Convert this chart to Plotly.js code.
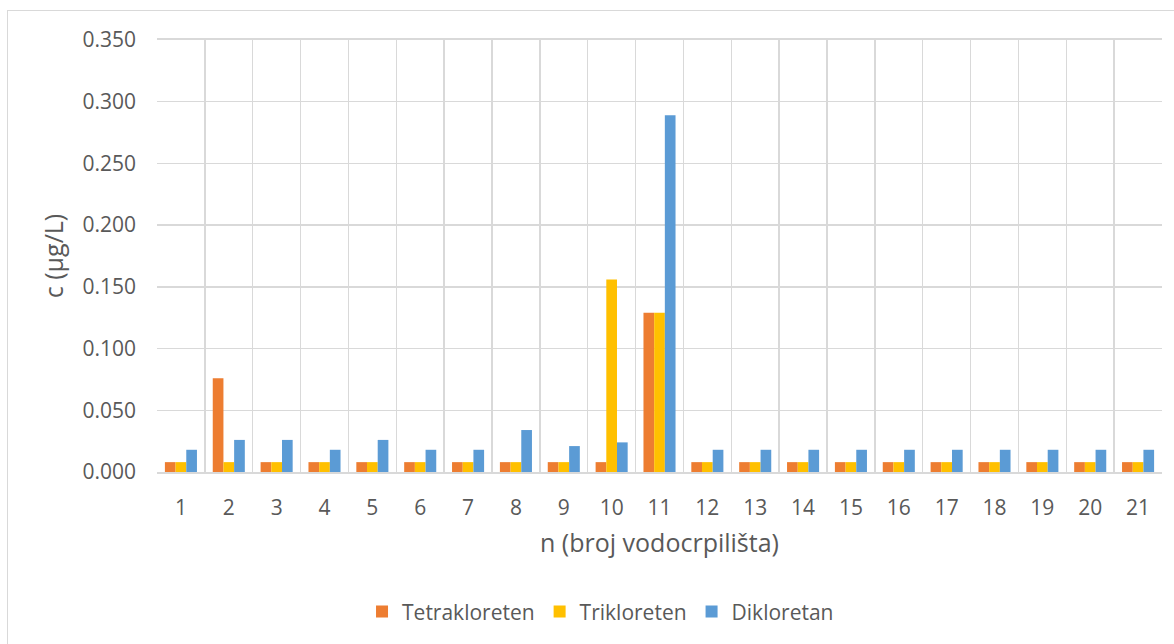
<!DOCTYPE html>
<html>
<head>
<meta charset="utf-8">
<script src="https://cdn.plot.ly/plotly-3.0.1.min.js"></script>
<style>
html,body{margin:0;padding:0;background:#fff;}
#wrap{position:relative;width:1174px;height:644px;overflow:hidden;}
#chart{position:absolute;left:0;top:0;width:1174px;height:644px;}
#frame{position:absolute;left:7px;top:10px;width:1200px;height:700px;border:1.5px solid #D9D9D9;box-sizing:border-box;pointer-events:none;z-index:5;}
</style>
</head>
<body>
<div id="wrap"><div id="chart"></div><div id="frame"></div></div>
<script>
const categories = ["1","2","3","4","5","6","7","8","9","10","11","12","13","14","15","16","17","18","19","20","21"];
const tetrakloreten = [0.008,0.076,0.008,0.008,0.008,0.008,0.008,0.008,0.008,0.008,0.129,0.008,0.008,0.008,0.008,0.008,0.008,0.008,0.008,0.008,0.008];
const trikloreten   = [0.008,0.008,0.008,0.008,0.008,0.008,0.008,0.008,0.008,0.156,0.129,0.008,0.008,0.008,0.008,0.008,0.008,0.008,0.008,0.008,0.008];
const dikloretan    = [0.018,0.026,0.026,0.018,0.026,0.018,0.018,0.034,0.021,0.024,0.289,0.018,0.018,0.018,0.018,0.018,0.018,0.018,0.018,0.018,0.018];
const seriesNames = ["Tetrakloreten","Trikloreten","Dikloretan"];
const yTickVals = [0,0.05,0.1,0.15,0.2,0.25,0.3,0.35];

const font = "'Open Sans', 'Liberation Sans', sans-serif";
const mk = (y, name, color) => ({type:'bar', x:categories, y:y, name:name, marker:{color:color}, hoverinfo:'y'});
const data = [
  mk(tetrakloreten, seriesNames[0], '#ED7D31'),
  mk(trikloreten, seriesNames[1], '#FFC000'),
  mk(dikloretan, seriesNames[2], '#5B9BD5')
];
const layout = {
  width:1174, height:644,
  margin:{l:157, r:12, t:40, b:172, autoexpand:false},
  paper_bgcolor:'#fff', plot_bgcolor:'#fff',
  barmode:'group', bargap:0.33, bargroupgap:0,
  font:{family:font, color:'#595959', size:21},
  xaxis:{
    type:'category', range:[-0.5,20.5], tickson:'boundaries',
    showgrid:true, gridcolor:'#D9D9D9', gridwidth:1.3,
    showline:true, linecolor:'#D9D9D9', linewidth:2, mirror:true,
    ticks:'', ticklabelstandoff:16,
    tickfont:{family:font, size:21, color:'#595959'},
    title:{text:'n (broj vodocrpilišta)', font:{family:font, size:25, color:'#595959'}, standoff:14},
    zeroline:false, fixedrange:true, automargin:false
  },
  yaxis:{
    range:[0,0.35], tickvals:yTickVals, tickformat:'.3f',
    showgrid:true, gridcolor:'#D9D9D9', gridwidth:1.3,
    zeroline:false, showline:false, ticks:'', ticklabelstandoff:20,
    tickfont:{family:font, size:21, color:'#595959'},
    title:{text:'c (µg/L)', font:{family:font, size:25, color:'#595959'}, standoff:11},
    fixedrange:true, automargin:false
  },
  legend:{orientation:'h', x:0.204, xanchor:'left', yref:'container', y:0.05, yanchor:'middle',
    font:{family:font, size:21, color:'#595959'}, itemwidth:30, traceorder:'normal'},
  showlegend:true
};
Plotly.newPlot('chart', data, layout, {displayModeBar:false, staticPlot:true});
</script>
</body>
</html>
